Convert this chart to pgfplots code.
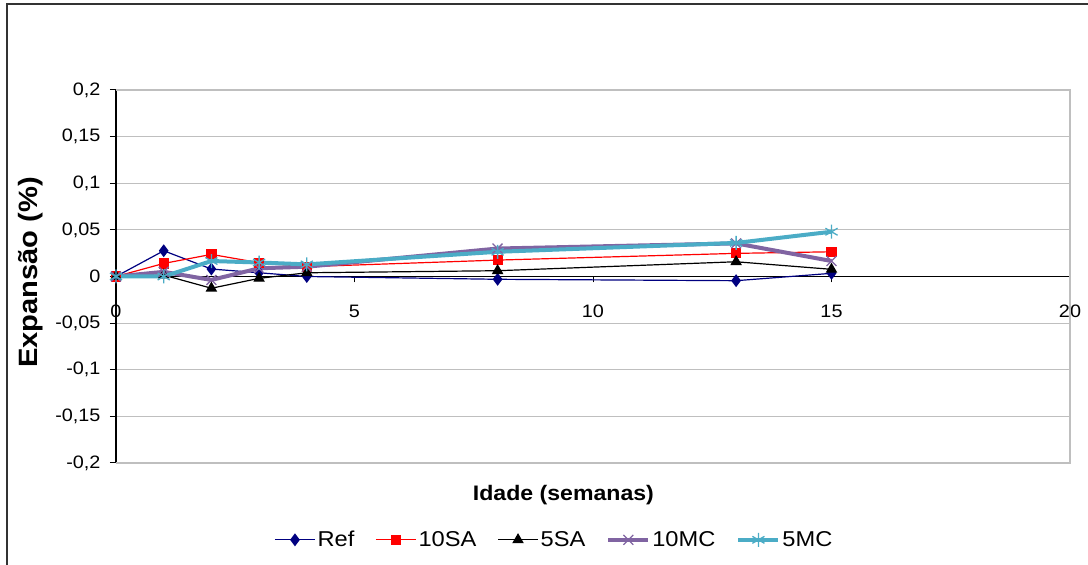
\documentclass[border=0pt]{standalone}
\usepackage{pgfplots}
\pgfplotsset{compat=1.18}
\usepackage{fontspec}
\setmainfont{Liberation Sans}[FakeStretch=1.1]
\definecolor{refc}{HTML}{000080}
\definecolor{sac}{HTML}{FF0000}
\definecolor{mcp}{HTML}{8064A2}
\definecolor{mcc}{HTML}{4BACC6}
\begin{document}
\begin{tikzpicture}
\useasboundingbox (0pt,0pt) rectangle (1088pt,565pt);
\draw[line width=2pt, color=black!80] (7pt,0pt) -- (7pt,561pt) -- (1088pt,561pt);
\begin{axis}[
  at={(116pt,102pt)}, anchor=south west,
  scale only axis, width=954pt, height=373pt,
  xmin=0, xmax=20, ymin=-0.2, ymax=0.2,
  axis x line=middle, axis y line=left,
  axis line style={-, black, line width=1.5pt},
  hide obscured x ticks=false, hide obscured y ticks=false,
  xtick={0,5,10,15,20},
  xticklabels={0,5,10,15,20},
  ytick={-0.2,-0.15,-0.1,-0.05,0,0.05,0.1,0.15,0.2},
  yticklabels={{-0,2},{-0,15},{-0,1},{-0,05},{0},{0,05},{0,1},{0,15},{0,2}},
  tick align=outside, major tick length=6pt,
  tick style={black, line width=1pt},
  ymajorgrids, grid style={black!25, line width=1.2pt},
  clip=false,
  ticklabel style={font=\fontsize{18}{21}\selectfont},
  xticklabel style={yshift=-19pt},
  yticklabel style={xshift=-6pt},
  every axis y label/.style={at={(rel axis cs:-0.089,0.511)}, rotate=90, anchor=center, font=\bfseries\fontsize{26.5}{30}\selectfont},
  every axis x label/.style={at={(rel axis cs:0.469,-0.0856)}, anchor=center, font=\bfseries\fontsize{21}{24}\selectfont},
  ylabel={Expansão (\%)},
  xlabel={Idade (semanas)},
  legend columns=5,
  legend style={at={(rel axis cs:0.4595,-0.206)}, anchor=center, draw=none, fill=none,
    font=\fontsize{21.5}{25}\selectfont,
    /tikz/every even column/.append style={column sep=19pt}},
  legend image code/.code={\draw[mark repeat=2, mark phase=2] plot coordinates {(0pt,0pt) (20pt,0pt) (40pt,0pt)};},
]
\draw[black!25, line width=1.5pt] (rel axis cs:0,0) -- (rel axis cs:1,0) -- (rel axis cs:1,1) -- (rel axis cs:0,1);
\addplot[color=refc, line width=1.2pt, mark=diamond*, mark size=5.5pt, mark options={solid}] coordinates {
(0,0) (1,0.0276) (2,0.008) (3,0.004) (4,0) (8,-0.003) (13,-0.0045) (15,0.0034)};
\addlegendentry{Ref}
\addplot[color=sac, line width=1.2pt, mark=square*, mark size=4.5pt] coordinates {
(0,0) (1,0.014) (2,0.0237) (3,0.0148) (4,0.0105) (8,0.0176) (13,0.0248) (15,0.0265)};
\addlegendentry{10SA}
\addplot[color=black, line width=1.2pt, mark=triangle*, mark size=5.5pt] coordinates {
(0,0) (1,0.0015) (2,-0.0126) (3,-0.002) (4,0.004) (8,0.0062) (13,0.0158) (15,0.0077)};
\addlegendentry{5SA}
\addplot[color=mcp, line width=4pt, mark=x, mark size=7pt, mark options={line width=1.3pt}] coordinates {
(0,0) (1,0.005) (2,-0.0037) (3,0.0088) (4,0.0105) (8,0.030) (13,0.0355) (15,0.0166)};
\addlegendentry{10MC}
\addplot[color=mcc, line width=4pt, mark=asterisk, mark size=7pt, mark options={line width=1.3pt}] coordinates {
(0,0) (1,0) (2,0.0166) (3,0.015) (4,0.013) (8,0.0265) (13,0.036) (15,0.048)};
\addlegendentry{5MC}
\end{axis}
\end{tikzpicture}
\end{document}
